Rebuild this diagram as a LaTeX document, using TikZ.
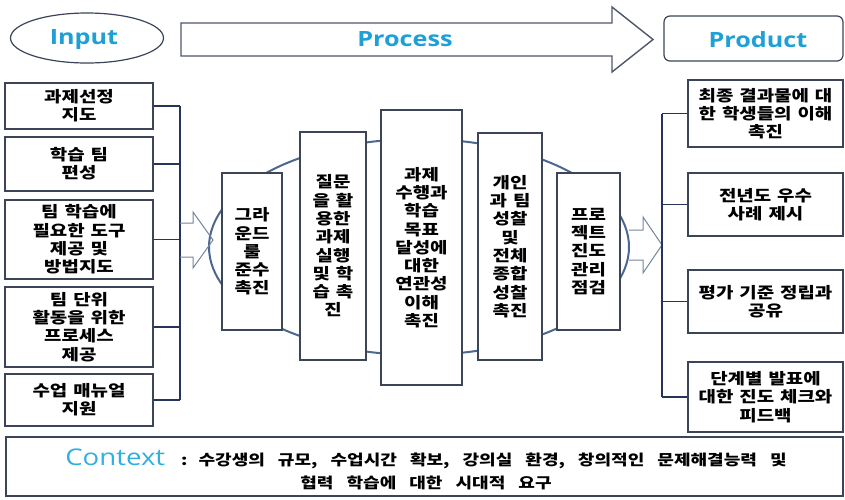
\documentclass[tikz,border=0pt]{standalone}
\usepackage{fontspec}
\usetikzlibrary{shapes.geometric}
\newfontfamily\kr{Noto Sans CJK KR}[FakeStretch=1.22]
\newfontfamily\ttl{Open Sans}[FakeStretch=1.2]
\definecolor{ttlc}{HTML}{1EA0D7}
\definecolor{ctxc}{HTML}{2EB0E2}
\definecolor{boxc}{HTML}{3C4458}
\definecolor{brk}{HTML}{27345A}
\definecolor{lensc}{HTML}{4D6890}
\definecolor{harr}{HTML}{75859C}
\begin{document}
\begin{tikzpicture}[x=1pt,y=-1pt,
  box/.style={draw=boxc, line width=1.2pt, fill=white, inner sep=0pt, align=center,
    font={\kr\bfseries\fontsize{15.5}{18.3}\selectfont\spaceskip=6pt plus 1pt\relax}},
  ttlfont/.style={text=ttlc, font=\ttl\bfseries\fontsize{21}{24}\selectfont},
  brkline/.style={draw=brk, line width=1.3pt},
  hollow/.style={draw=harr, line width=1pt, line join=miter},
  lens/.style={draw=lensc, line width=2pt}
]
\useasboundingbox (0,0) rectangle (845,499);
\fill[white] (0,0) rectangle (845,499);

% ---- header ----
\node[ellipse, draw=boxc, line width=1.2pt, minimum width=153, minimum height=50, inner sep=0pt] (inp) at (87,38) {};
\node[ttlfont] (inpt) at (84,39.5) {Input};
\draw[draw=boxc!90, line width=1.4pt, line join=miter] (181,23) -- (612,23) -- (612,7) -- (653,39.5) -- (612,72) -- (612,56) -- (181,56) -- cycle;
\node[ttlfont] (proc) at (405,39.5) {Process};
\node[draw=boxc, line width=1.2pt, rounded corners=6pt, minimum width=179, minimum height=45, inner sep=0pt] (prod) at (753.5,38.5) {};
\node[ttlfont] (prodt) at (758,39.5) {Product};

% ---- lens behind process boxes ----
\draw[lens] (419,247) ellipse [x radius=210, y radius=108];

% ---- input boxes ----
\node[box, minimum width=148, minimum height=46] (L1) at (79,106) {과제선정\\지도};
\node[box, minimum width=148, minimum height=54] (L2) at (79,164) {학습 팀\\편성};
\node[box, minimum width=148, minimum height=79] (L3) at (79,239.5) {팀 학습에\\필요한 도구\\제공 및\\방법지도};
\node[box, minimum width=148, minimum height=80] (L4) at (79,327) {팀 단위\\활동을 위한\\프로세스\\제공};
\node[box, minimum width=148, minimum height=52] (L5) at (79,400) {수업 매뉴얼\\지원};
\coordinate (lb) at (180,0);
\foreach \n in {L1,L2,L3,L4,L5} \draw[brkline] (\n.east) -- (\n.east -| lb);
\draw[brkline] (L1.east -| lb) -- (L5.east -| lb);

% ---- process boxes ----
\node[box, minimum width=60, minimum height=157] (A) at (252,251.5) {그라\\운드\\룰\\준수\\촉진};
\node[box, minimum width=66, minimum height=228] (B) at (333,246) {질문\\을 활\\용한\\과제\\실행\\및 학\\습 촉\\진};
\node[box, minimum width=81, minimum height=275] (C) at (421.5,247.5) {과제\\수행과\\학습\\목표\\달성에\\대한\\연관성\\이해\\촉진};
\node[box, minimum width=64, minimum height=227] (D) at (510,246.5) {개인\\과 팀\\성찰\\및\\전체\\종합\\성찰\\촉진};
\node[box, minimum width=63, minimum height=157] (E) at (588.5,251.5) {프로\\젝트\\진도\\관리\\점검};

% ---- hollow arrows ----
\draw[hollow] (180,223) -- (193,223) -- (193,212) -- (213,240) -- (193,268) -- (193,257) -- (180,257);
\draw[hollow] (629,230) -- (643,230) -- (643,217) -- (662,245) -- (643,273) -- (643,260) -- (629,260);

% ---- product boxes ----
\node[box, minimum width=155, minimum height=67] (P1) at (765.5,113.5) {최종 결과물에 대\\한 학생들의 이해\\촉진};
\node[box, minimum width=155, minimum height=63] (P2) at (765.5,204.5) {전년도 우수\\사례 제시};
\node[box, minimum width=155, minimum height=63] (P3) at (765.5,301.5) {평가 기준 정립과\\공유};
\node[box, minimum width=155, minimum height=70] (P4) at (765.5,397) {단계별 발표에\\대한 진도 체크와\\피드백};
\coordinate (rb) at (662,0);
\foreach \n in {P1,P2,P3,P4} \draw[brkline] (\n.west) -- (\n.west -| rb);
\draw[brkline] (P1.west -| rb) -- (P4.west -| rb);

% ---- context ----
\node[draw=boxc, line width=1.3pt, minimum width=837, minimum height=59, inner sep=0pt] (ctx) at (424.5,466.5) {};
\node[align=center, inner sep=0pt, font={\kr\bfseries\fontsize{14.8}{22.5}\selectfont\spaceskip=13pt plus 1pt\relax}] (ctxt) at (426,469.5)
  {{\ttl\mdseries\color{ctxc}\fontsize{23}{22}\selectfont Context}\hspace{16pt}:\hspace{11pt}수강생의 규모, 수업시간 확보, 강의실 환경, 창의적인 문제해결능력 및\\협력 학습에 대한 시대적 요구};
\end{tikzpicture}
\end{document}
